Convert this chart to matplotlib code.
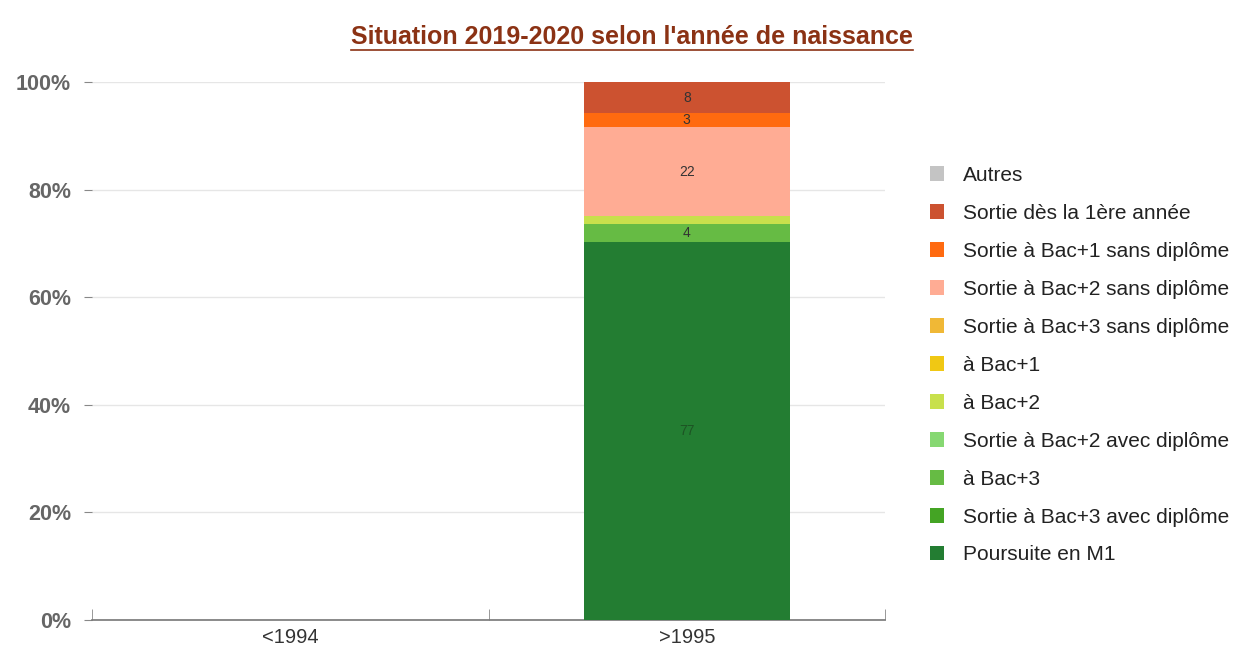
import matplotlib
matplotlib.use("Agg")
import matplotlib.pyplot as plt
import numpy as np
from matplotlib.patches import Patch
from matplotlib.lines import Line2D

plt.rcParams['font.family'] = ['Liberation Sans', 'DejaVu Sans']

# data
categories = ['<1994', '>1995']
series = ['Poursuite en M1', 'Sortie à Bac+3 avec diplôme', 'à Bac+3',
          'Sortie à Bac+2 avec diplôme', 'à Bac+2', 'à Bac+1',
          'Sortie à Bac+3 sans diplôme', 'Sortie à Bac+2 sans diplôme',
          'Sortie à Bac+1 sans diplôme', 'Sortie dès la 1ère année', 'Autres']
colors = ['#237d32', '#44a424', '#66bb44', '#86d872', '#c8e04c', '#f0c814',
          '#f0b836', '#ffac94', '#ff6a10', '#cc5230', '#c4c4c4']
# share of each series (percent) per category
pct_1994 = [0, 0, 0, 0, 0, 0, 0, 0, 0, 0, 0]
pct_1995 = [70.3, 0, 3.3, 0, 1.5, 0, 0, 16.5, 2.6, 5.8, 0]
# counts shown on the bar
counts_1995 = ['77', '', '4', '', '', '', '', '22', '3', '8', '']

values = np.array([pct_1994, pct_1995]).T / 100.0

fig = plt.figure(figsize=(12.35, 6.54), dpi=100)
ax = fig.add_axes([0.0745, 0.052, 0.6421, 0.8226])

x = np.arange(len(categories))
bottom = np.zeros(len(categories))
for i, name in enumerate(series):
    ax.bar(x, values[i], 0.52, bottom=bottom, color=colors[i], label=name, zorder=3)
    # labels
    if counts_1995[i]:
        txtcol = '#1d5424' if i == 0 else '#333333'
        ax.text(x[1], bottom[1] + values[i][1] / 2, counts_1995[i],
                ha='center', va='center', fontsize=10, color=txtcol, zorder=4)
    bottom = bottom + values[i]

ax.set_xlim(-0.5, 1.5)
ax.set_ylim(0, 1)
ax.set_yticks(np.arange(0, 1.01, 0.2))
ax.set_yticklabels(['%d%%' % v for v in range(0, 101, 20)],
                   fontsize=15.5, color='#666666', fontweight='bold')
ax.yaxis.grid(True, color='#e6e6e6', linewidth=1, zorder=0)
ax.tick_params(axis='y', length=6, color='#888888', pad=9)

ax.set_xticks(x)
ax.set_xticklabels(categories, fontsize=14.5, color='#333333')
ax.tick_params(axis='x', length=0, pad=6)
ax.set_xticks([-0.5, 0.5, 1.5], minor=True)
ax.tick_params(axis='x', which='minor', length=8, direction='in', color='#888888')

for s in ['top', 'right', 'left']:
    ax.spines[s].set_visible(False)
ax.spines['bottom'].set_color('#777777')
ax.spines['bottom'].set_linewidth(1.2)

handles = [Patch(facecolor=colors[i], edgecolor='none') for i in range(len(series))][::-1]
leg = fig.legend(handles, series[::-1], loc='upper left', bbox_to_anchor=(0.7377, 0.775),
                 frameon=False, fontsize=15, handlelength=0.7, handleheight=0.7,
                 labelspacing=0.91, handletextpad=0.9, labelcolor='#222222')

title = fig.text(0.512, 0.943, "Situation 2019-2020 selon l'année de naissance",
                 ha='center', va='center', fontsize=18, fontweight='bold', color='#8b3214')
fig.canvas.draw()
bb = title.get_window_extent().transformed(fig.transFigure.inverted())
fig.add_artist(Line2D([bb.x0, bb.x1], [bb.y0 - 0.001, bb.y0 - 0.001],
                      transform=fig.transFigure, color='#8b3214', linewidth=1.2))

fig.savefig('out.png', dpi=100)
